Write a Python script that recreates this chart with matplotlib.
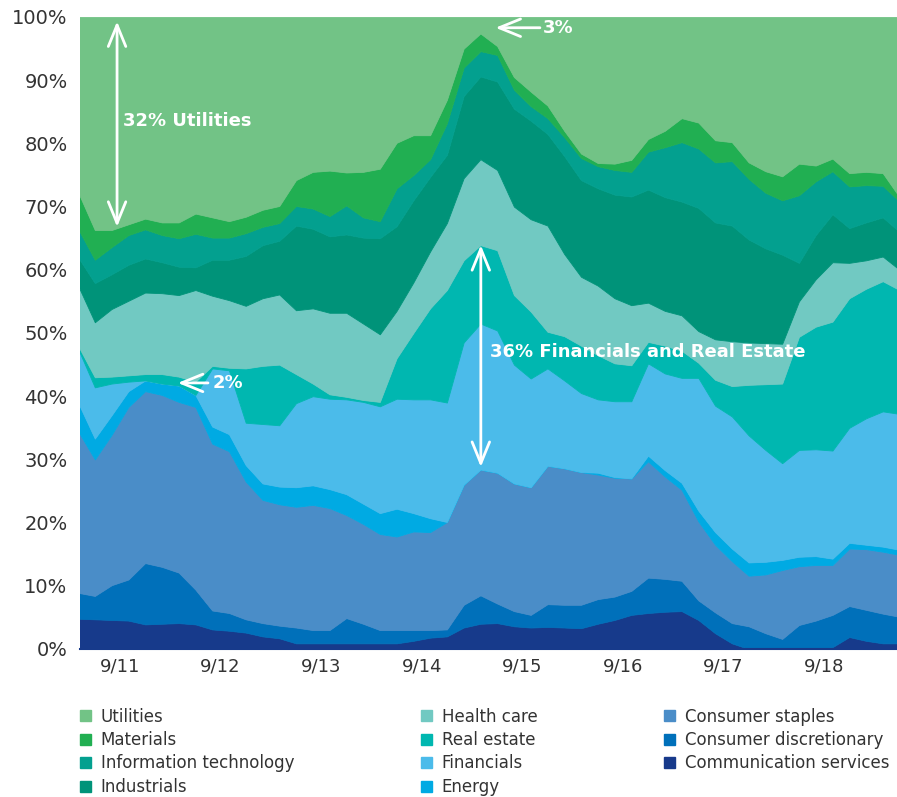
import numpy as np
import matplotlib.pyplot as plt
from matplotlib.patches import Patch

# months counted from Jan 2011, one reading every second month
months = np.arange(3, 102, 2)

# upper edge of every band in % (bottom band first)
comm_top = [4.8, 4.7, 4.6, 4.5, 3.9, 4.0, 4.1, 3.9, 3.1, 2.9,
            2.6, 2.0, 1.7, 0.9, 0.9, 0.9, 0.9, 0.9, 0.9, 0.9,
            1.3, 1.8, 2.0, 3.4, 4.0, 4.1, 3.6, 3.4, 3.5, 3.4,
            3.3, 4.0, 4.6, 5.4, 5.7, 5.9, 6.0, 4.6, 2.5, 0.9,
            0.0, 0.0, 0.0, 0.0, 0.0, 0.3, 1.9, 1.3, 0.9, 0.9]
discr_top = [8.9, 8.4, 10.1, 11.0, 13.6, 13.0, 12.1, 9.4, 6.1, 5.7,
             4.7, 4.1, 3.7, 3.4, 3.0, 3.0, 4.9, 4.0, 3.0, 3.0,
             3.0, 3.0, 3.1, 7.0, 8.5, 7.2, 6.0, 5.4, 7.1, 7.0,
             7.0, 7.9, 8.3, 9.2, 11.3, 11.1, 10.8, 7.7, 5.8, 4.1,
             3.6, 2.5, 1.6, 3.8, 4.5, 5.4, 6.8, 6.2, 5.6, 5.1]
staples_top = [34.5, 30.0, 33.9, 38.3, 40.8, 40.2, 39.1, 38.3, 32.5, 31.3,
               26.5, 23.6, 22.9, 22.5, 22.8, 22.3, 21.2, 19.8, 18.2, 17.8,
               18.6, 18.5, 20.1, 26.0, 28.4, 27.9, 26.2, 25.6, 29.0, 28.6,
               28.0, 27.6, 27.1, 27.0, 29.7, 27.3, 25.2, 20.2, 16.5, 13.9,
               11.6, 11.8, 12.5, 13.1, 13.3, 13.3, 15.9, 15.8, 15.4, 14.9]
energy_top = [39.0, 33.3, 37.0, 40.8, 42.5, 42.0, 41.7, 40.2, 35.2, 34.0,
              29.1, 26.2, 25.7, 25.6, 25.9, 25.3, 24.5, 23.0, 21.5, 22.2,
              21.5, 20.7, 20.1, 26.0, 28.4, 27.9, 26.2, 25.6, 29.0, 28.6,
              28.0, 27.9, 27.2, 27.0, 30.6, 28.3, 26.3, 21.9, 18.5, 15.9,
              13.7, 13.8, 14.1, 14.6, 14.7, 14.3, 16.8, 16.5, 16.2, 15.7]
fin_top = [47.5, 41.4, 42.0, 42.3, 42.5, 42.0, 41.7, 40.2, 44.4, 44.1,
           35.8, 35.6, 35.4, 38.9, 40.0, 39.6, 39.5, 39.1, 38.4, 39.6,
           39.5, 39.5, 39.0, 48.5, 51.5, 50.4, 45.0, 42.8, 44.4, 42.5,
           40.5, 39.5, 39.2, 39.2, 45.2, 43.6, 42.9, 42.9, 38.5, 36.8,
           33.8, 31.5, 29.4, 31.5, 31.6, 31.4, 35.0, 36.5, 37.6, 37.2]
realestate_top = [48.0, 43.0, 43.1, 43.3, 43.5, 43.5, 43.1, 42.3, 44.8, 44.5,
                  44.4, 44.8, 45.0, 43.5, 42.0, 40.3, 39.9, 39.4, 39.1, 46.0,
                  50.0, 53.9, 56.8, 61.5, 63.9, 63.1, 56.0, 53.4, 50.2, 49.5,
                  48.0, 46.5, 45.2, 44.9, 48.6, 48.0, 47.2, 45.3, 42.6, 41.6,
                  41.8, 41.9, 42.0, 49.4, 51.0, 51.8, 55.5, 57.0, 58.2, 56.8]
health_top = [57.5, 51.7, 53.8, 55.1, 56.4, 56.3, 56.0, 56.8, 55.9, 55.2,
              54.3, 55.5, 56.1, 53.6, 53.9, 53.2, 53.2, 51.5, 49.8, 53.5,
              58.0, 62.9, 67.4, 74.5, 77.5, 75.8, 70.0, 68.0, 67.0, 62.5,
              58.9, 57.5, 55.5, 54.4, 54.8, 53.5, 52.8, 50.3, 49.0, 48.7,
              48.5, 48.4, 48.3, 55.0, 58.5, 61.2, 61.1, 61.5, 62.1, 60.0]
industrials_top = [62.0, 57.9, 59.3, 60.8, 61.8, 61.2, 60.5, 60.4, 61.6, 61.6,
                   62.2, 63.9, 64.6, 67.0, 66.5, 65.3, 65.6, 65.1, 65.0, 66.9,
                   71.0, 74.7, 78.2, 87.5, 90.6, 89.8, 85.5, 83.6, 81.5, 78.0,
                   74.2, 72.9, 71.9, 71.6, 72.7, 71.5, 70.8, 69.8, 67.5, 67.0,
                   64.8, 63.4, 62.4, 61.1, 65.5, 68.8, 66.6, 67.5, 68.3, 66.0]
it_top = [66.5, 61.6, 63.6, 65.5, 66.4, 65.5, 65.0, 65.7, 65.1, 65.1,
          65.8, 66.8, 67.4, 70.1, 69.7, 68.5, 70.2, 68.3, 67.7, 72.9,
          75.0, 77.5, 83.2, 92.0, 94.6, 94.0, 88.5, 85.9, 84.0, 81.0,
          77.7, 76.4, 75.8, 75.5, 78.7, 79.4, 80.2, 79.2, 77.0, 77.2,
          74.4, 72.2, 71.0, 71.8, 74.0, 75.6, 73.2, 73.4, 73.3, 70.8]
materials_top = [72.3, 66.3, 66.3, 67.2, 68.1, 67.5, 67.5, 68.9, 68.3, 67.7,
                 68.4, 69.5, 70.1, 74.2, 75.5, 75.7, 75.4, 75.5, 76.0, 80.1,
                 81.3, 81.3, 86.9, 95.0, 97.4, 95.4, 90.5, 88.2, 86.0, 82.0,
                 78.4, 76.9, 76.8, 77.4, 80.7, 82.0, 84.0, 83.3, 80.5, 80.2,
                 77.0, 75.6, 74.8, 76.8, 76.5, 77.6, 75.3, 75.5, 75.3, 71.5]

sectors = ['Communication services', 'Consumer discretionary', 'Consumer staples',
           'Energy', 'Financials', 'Real estate', 'Health care', 'Industrials',
           'Information technology', 'Materials', 'Utilities']
colors = ['#173A8B', '#0070BA', '#4A8DC8', '#00AAE3', '#4BBBEA', '#00B7B0',
          '#71C9C2', '#009379', '#03A08F', '#21AF52', '#72C386']

tick_pos = [8, 20, 32, 44, 56, 68, 80, 92]
tick_labels = ['9/11', '9/12', '9/13', '9/14', '9/15', '9/16', '9/17', '9/18']

n = len(months)
edges = np.vstack([np.zeros(n), comm_top, discr_top, staples_top, energy_top,
                   fin_top, realestate_top, health_top, industrials_top,
                   it_top, materials_top, np.full(n, 100.0)])
shares = np.diff(edges, axis=0)

fig = plt.figure(figsize=(8.97, 7.97), dpi=100)
ax = fig.add_axes([80 / 897, 1 - 649 / 797, 817 / 897, 632 / 797])

polys = ax.stackplot(months, shares, colors=colors)
for p, c in zip(polys, colors):
    p.set_edgecolor(c)
    p.set_linewidth(0.6)

ax.set_xlim(3.23, 100.7)
ax.set_ylim(0, 100)
ax.set_xticks(tick_pos, tick_labels)
ax.set_yticks(range(0, 101, 10), [f'{v}%' for v in range(0, 101, 10)])
ax.tick_params(length=0, colors='#333333')
ax.tick_params(axis='x', labelsize=13, pad=6)
ax.tick_params(axis='y', labelsize=14, pad=9)
for s in ['top', 'right', 'left']:
    ax.spines[s].set_visible(False)
ax.spines['bottom'].set_color('#173A8B')
ax.spines['bottom'].set_linewidth(1.5)

# white arrows and labels on the chart
two_way = dict(arrowstyle='<->,head_length=1.1,head_width=0.45', color='white',
               lw=2, shrinkA=0, shrinkB=0, mutation_scale=14)
one_way = dict(arrowstyle='->,head_length=1.1,head_width=0.45', color='white',
               lw=2, shrinkA=0, shrinkB=0, mutation_scale=14)

ax.annotate('', xy=(7.65, 99.3), xytext=(7.65, 66.8), arrowprops=two_way)
ax.text(8.4, 83.5, '32% Utilities', color='white', fontsize=13,
        fontweight='bold', va='center')

ax.annotate('', xy=(51.05, 63.9), xytext=(51.05, 28.8), arrowprops=two_way)
ax.text(52.1, 47.0, '36% Financials and Real Estate', color='white',
        fontsize=13, fontweight='bold', va='center')

ax.annotate('', xy=(52.8, 98.3), xytext=(58.1, 98.3), arrowprops=one_way)
ax.text(58.4, 98.3, '3%', color='white', fontsize=13, fontweight='bold',
        va='center')

ax.annotate('', xy=(14.9, 42.1), xytext=(18.5, 42.1), arrowprops=one_way)
ax.text(19.0, 42.1, '2%', color='white', fontsize=13, fontweight='bold',
        va='center')

handles = [Patch(color=c, label=s) for s, c in zip(sectors[::-1], colors[::-1])]
fig.legend(handles=handles, ncol=3, loc='upper left',
           bbox_to_anchor=(80 / 897, 1 - 707.5 / 797), frameon=False,
           fontsize=12, labelcolor='#333333', borderpad=0, borderaxespad=0,
           handlelength=0.65, handleheight=0.65, handletextpad=0.6,
           columnspacing=7.6, labelspacing=0.33)

fig.savefig('out.png', dpi=100)
